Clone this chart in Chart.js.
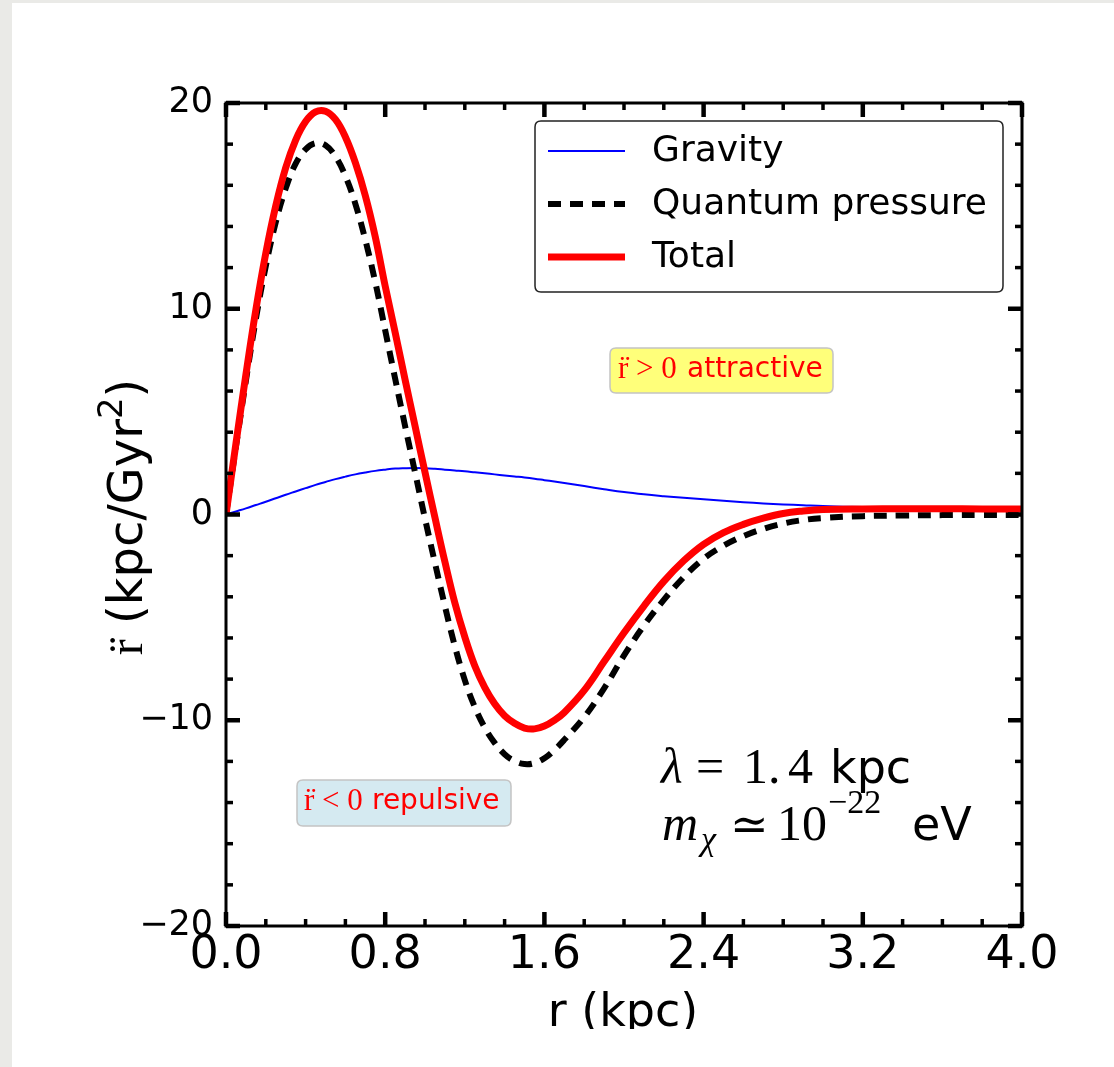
<!DOCTYPE html>
<html><head><meta charset="utf-8">
<script src="https://cdn.jsdelivr.net/npm/chart.js@4.4.1/dist/chart.umd.min.js"></script>
<style>
html,body{margin:0;padding:0;background:#eaeae7;width:1114px;height:1067px;overflow:hidden;}
#panel{position:absolute;left:12px;top:3px;width:1102px;height:1064px;background:#fff;}
#c{position:absolute;left:0;top:0;}
</style></head><body>
<div id="panel"></div>
<canvas id="c" width="1114" height="1029"></canvas>
<script>
// ---- data ----
const rValues = [0,0.05,0.1,0.15,0.2,0.25,0.3,0.35,0.4,0.45,0.5,0.55,0.6,0.65,0.7,0.75,0.8,0.85,0.9,0.95,1.0,1.05,1.1,1.15,1.2,1.25,1.3,1.35,1.4,1.45,1.5,1.55,1.6,1.65,1.7,1.8,1.9,2.0,2.1,2.2,2.3,2.4,2.5,2.6,2.7,2.8,2.9,3.0,3.2,3.4,3.6,3.8,4.0];
const gravity = [0,0.15,0.3,0.46,0.62,0.79,0.96,1.12,1.28,1.44,1.58,1.72,1.84,1.95,2.04,2.12,2.18,2.23,2.25,2.26,2.25,2.22,2.18,2.14,2.1,2.05,2.0,1.95,1.9,1.85,1.8,1.74,1.67,1.6,1.53,1.38,1.23,1.09,0.98,0.89,0.81,0.74,0.67,0.6,0.54,0.49,0.45,0.41,0.36,0.33,0.31,0.29,0.28];
const quantumPressure = [0,3.3,6.5,9.5,12.07,14.2,15.85,17.05,17.75,18.05,17.95,17.4,16.45,15.1,13.35,11.3,8.95,6.6,4.3,2.05,-0.2,-2.35,-4.45,-6.4,-8.05,-9.35,-10.35,-11.1,-11.65,-11.98,-12.13,-12.08,-11.85,-11.45,-10.95,-9.85,-8.45,-6.85,-5.4,-4.15,-3.05,-2.15,-1.52,-1.05,-0.7,-0.44,-0.27,-0.17,-0.08,-0.05,-0.03,-0.02,-0.02];
const total = [0,3.45,6.8,9.95,12.7,15.0,16.85,18.2,19.1,19.57,19.6,19.2,18.35,17.1,15.5,13.5,11.1,8.85,6.55,4.3,2.05,-0.15,-2.3,-4.3,-5.95,-7.35,-8.4,-9.2,-9.78,-10.15,-10.38,-10.42,-10.28,-10.0,-9.62,-8.55,-7.15,-5.75,-4.45,-3.25,-2.25,-1.45,-0.88,-0.48,-0.18,0.05,0.17,0.24,0.27,0.28,0.28,0.27,0.27];
const seriesLabels = ['Gravity','Quantum pressure','Total'];
const xTickValues = [0,0.8,1.6,2.4,3.2,4.0];
const xTickLabels = ['0.0','0.8','1.6','2.4','3.2','4.0'];
const yTickValues = [-20,-10,0,10,20];
const yTickLabels = ['\u221220','\u221210','0','10','20'];

const SANS = '"DejaVu Sans", sans-serif';
const SERIF = '"Liberation Serif", "DejaVu Serif", serif';

function rrect(ctx,x,y,w,h,r){
  ctx.beginPath();
  ctx.moveTo(x+r,y);ctx.lineTo(x+w-r,y);ctx.quadraticCurveTo(x+w,y,x+w,y+r);
  ctx.lineTo(x+w,y+h-r);ctx.quadraticCurveTo(x+w,y+h,x+w-r,y+h);
  ctx.lineTo(x+r,y+h);ctx.quadraticCurveTo(x,y+h,x,y+h-r);
  ctx.lineTo(x,y+r);ctx.quadraticCurveTo(x,y,x+r,y);ctx.closePath();
}

const decor = {
  id:'decor',
  afterDraw(chart){
    const ctx = chart.ctx, a = chart.chartArea, xs = chart.scales.x, ys = chart.scales.y;
    ctx.save();
    // spines
    ctx.strokeStyle = '#000'; ctx.lineWidth = 3;
    ctx.strokeRect(a.left, a.top, a.right - a.left, a.bottom - a.top);
    // inward ticks on all four sides
    ctx.fillStyle = '#000';
    const xMinor = [], yMinor = [];
    for (let k = 0; k <= 20; k++) if (k % 4) xMinor.push(k * 0.2);
    for (let k = -10; k <= 10; k++) if (k % 5) yMinor.push(k * 2);
    const xt = (v, len, w) => { const p = xs.getPixelForValue(v);
      ctx.fillRect(p - w/2, a.bottom - len, w, len); ctx.fillRect(p - w/2, a.top, w, len); };
    const yt = (v, len, w) => { const p = ys.getPixelForValue(v);
      ctx.fillRect(a.left, p - w/2, len, w); ctx.fillRect(a.right - len, p - w/2, len, w); };
    xTickValues.forEach(v => xt(v, 14, 4.5)); xMinor.forEach(v => xt(v, 7, 3.5));
    yTickValues.forEach(v => yt(v, 14, 4.5)); yMinor.forEach(v => yt(v, 7, 3.5));

    // legend
    rrect(ctx, 535, 121, 468, 171, 6);
    ctx.fillStyle = '#fff'; ctx.fill();
    ctx.strokeStyle = '#222'; ctx.lineWidth = 1.5; ctx.stroke();
    const rows = [151, 204, 257];
    chart.data.datasets.forEach((ds, i) => {
      ctx.save();
      ctx.strokeStyle = ds.borderColor; ctx.lineWidth = ds.borderWidth;
      ctx.setLineDash(ds.borderDash || []);
      ctx.beginPath(); ctx.moveTo(548, rows[i]); ctx.lineTo(625, rows[i]); ctx.stroke();
      ctx.restore();
      ctx.fillStyle = '#000'; ctx.font = '36px ' + SANS; ctx.textBaseline = 'middle';
      ctx.fillText(ds.label, 652, rows[i] + 1);
    });

    // annotation boxes
    ctx.lineWidth = 1.5; ctx.strokeStyle = '#c4c4c4';
    rrect(ctx, 610, 348, 223, 45, 6); ctx.fillStyle = '#ffff7a'; ctx.fill(); ctx.stroke();
    rrect(ctx, 297, 780, 214, 46, 6); ctx.fillStyle = '#d5eaf1'; ctx.fill(); ctx.stroke();
    ctx.fillStyle = '#ff0000'; ctx.textBaseline = 'alphabetic';
    ctx.font = '31px ' + SERIF; ctx.fillText('r\u0308 > 0', 618, 378);
    ctx.font = '28px ' + SANS; ctx.fillText('attractive', 687, 377);
    ctx.font = '31px ' + SERIF; ctx.fillText('r\u0308 < 0', 304, 810);
    ctx.font = '28px ' + SANS; ctx.fillText('repulsive', 372, 809);

    // parameter text
    ctx.fillStyle = '#000';
    ctx.font = 'italic 50px ' + SERIF; ctx.fillText('\u03bb', 661, 783);
    ctx.font = '50px ' + SERIF; ctx.fillText('=', 696, 783); ctx.fillText('1.', 743, 783); ctx.fillText('4', 788, 783);
    ctx.font = '46px ' + SANS; ctx.fillText('kpc', 830, 783);
    ctx.font = 'italic 50px ' + SERIF; ctx.fillText('m', 662, 840);
    ctx.font = 'italic 34px ' + SERIF; ctx.fillText('\u03c7', 701, 850);
    ctx.font = '46px ' + SERIF; ctx.fillText('\u2243', 730, 840);
    ctx.font = '50px ' + SERIF; ctx.fillText('10', 777, 840);
    ctx.font = '34px ' + SERIF; ctx.fillText('\u221222', 828, 813);
    ctx.font = '46px ' + SANS; ctx.fillText('eV', 912, 840);

    // x axis title
    ctx.font = '46px ' + SANS; ctx.textAlign = 'center';
    ctx.fillText('r (kpc)', 623, 1026);

    // y axis title (rotated)
    ctx.textAlign = 'left';
    ctx.translate(142, 517); ctx.rotate(-Math.PI/2);
    const parts = [
      {t:'r\u0308', f:'48px ' + SERIF, dy:0},
      {t:' (kpc/Gyr', f:'48px ' + SANS, dy:0},
      {t:'2', f:'34px ' + SANS, dy:-20},
      {t:')', f:'48px ' + SANS, dy:0}
    ];
    let w = 0; parts.forEach(p => { ctx.font = p.f; p.w = ctx.measureText(p.t).width; w += p.w; });
    let x0 = -w/2;
    parts.forEach(p => { ctx.font = p.f; ctx.fillText(p.t, x0, p.dy); x0 += p.w; });
    ctx.restore();
  }
};

const pts = arr => rValues.map((r, i) => ({x: r, y: arr[i]}));
new Chart(document.getElementById('c'), {
  type: 'line',
  data: { datasets: [
    {label: seriesLabels[0], data: pts(gravity), borderColor: '#0000ff', borderWidth: 2, pointRadius: 0, tension: 0.4, fill: false, order: 2},
    {label: seriesLabels[1], data: pts(quantumPressure), borderColor: '#000000', borderWidth: 6, borderDash: [13, 9], pointRadius: 0, tension: 0.4, fill: false, order: 1},
    {label: seriesLabels[2], data: pts(total), borderColor: '#ff0000', borderWidth: 7, pointRadius: 0, tension: 0.4, fill: false, order: 0}
  ]},
  options: {
    responsive: false, devicePixelRatio: 1, animation: false,
    layout: {padding: {left: 0, top: 103, right: 92, bottom: 0}},
    plugins: {legend: {display: false}, tooltip: {enabled: false}, title: {display: false}},
    scales: {
      x: {type: 'linear', min: 0, max: 4, position: 'bottom',
        afterBuildTicks: s => { s.ticks = xTickValues.map(v => ({value: v})); },
        afterFit: s => { s.height = 103; },
        grid: {display: false, drawTicks: false}, border: {display: false},
        ticks: {autoSkip: false, maxRotation: 0, padding: 2, color: '#000', font: {family: 'DejaVu Sans', size: 46},
          callback: (v, i) => xTickLabels[i]}},
      y: {type: 'linear', min: -20, max: 20, position: 'left',
        afterBuildTicks: s => { s.ticks = yTickValues.map(v => ({value: v})); },
        afterFit: s => { s.width = 226; },
        grid: {display: false, drawTicks: false}, border: {display: false},
        ticks: {autoSkip: false, padding: 13, color: '#000', font: {family: 'DejaVu Sans', size: 35},
          callback: (v, i) => yTickLabels[i]}}
    }
  },
  plugins: [decor]
});
</script>
</body></html>
